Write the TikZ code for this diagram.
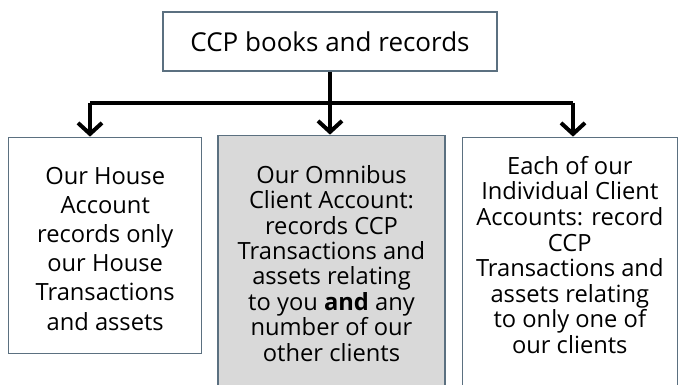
\documentclass[tikz,border=0pt]{standalone}
\usepackage{fontspec}
\setmainfont{Open Sans}
\usetikzlibrary{arrows.meta,positioning}

\definecolor{boxline}{HTML}{5B7080}
\definecolor{boxfill}{HTML}{D9D9D9}

\begin{document}
\begin{tikzpicture}[x=1pt,y=-1pt,>={Straight Barb[length=11pt,width=24pt]},
                node distance=63pt,
                main box/.style={rectangle,draw=boxline,line width=1.3pt,align=center,inner sep=0pt},
                link/.style={line width=4pt,black}]
	\useasboundingbox (0,0) rectangle (678,385);
	\node[main box,minimum width=334pt,minimum height=59pt,font=\fontsize{26}{30}\selectfont] (books) at (330,41.5) {CCP books and records};
	\node[main box,fill=boxfill,minimum width=227pt,minimum height=256pt,anchor=north,
		font=\fontsize{23.7}{25.4}\selectfont] (omnibus) [below=of books,xshift=1.5pt]
		{Our Omnibus\\Client Account:\\records CCP\\Transactions and\\assets relating\\to you \textbf{and} any\\number of our\\other clients};
	\node[main box,minimum width=193pt,minimum height=216pt,anchor=north east,text height=170pt,
		font=\fontsize{23.7}{29.2}\selectfont] (house) at ([xshift=-15pt,yshift=-2pt]omnibus.north west)
		{Our House\\Account\\records only\\our House\\Transactions\\and assets};
	\node[main box,minimum width=215pt,minimum height=256pt,anchor=north west,text depth=21pt,
		font=\fontsize{23.7}{25.6}\selectfont] (single) at ([xshift=16pt,yshift=-2pt]omnibus.north east)
		{Each of our\\Individual Client\\Accounts: record\\CCP\\Transactions and\\assets relating\\to only one of\\our clients};
	\coordinate (lbar) at (90,103);
	\coordinate (rbar) at (573,103);

	\path[link]
	(lbar) edge node {} (rbar)
	(books.south) edge[->] node {} (books.south |- omnibus.north)
	(lbar) edge[->] node {} (lbar |- house.north)
	(rbar) edge[->] node {} (rbar |- single.north)
;
\end{tikzpicture}
\end{document}
